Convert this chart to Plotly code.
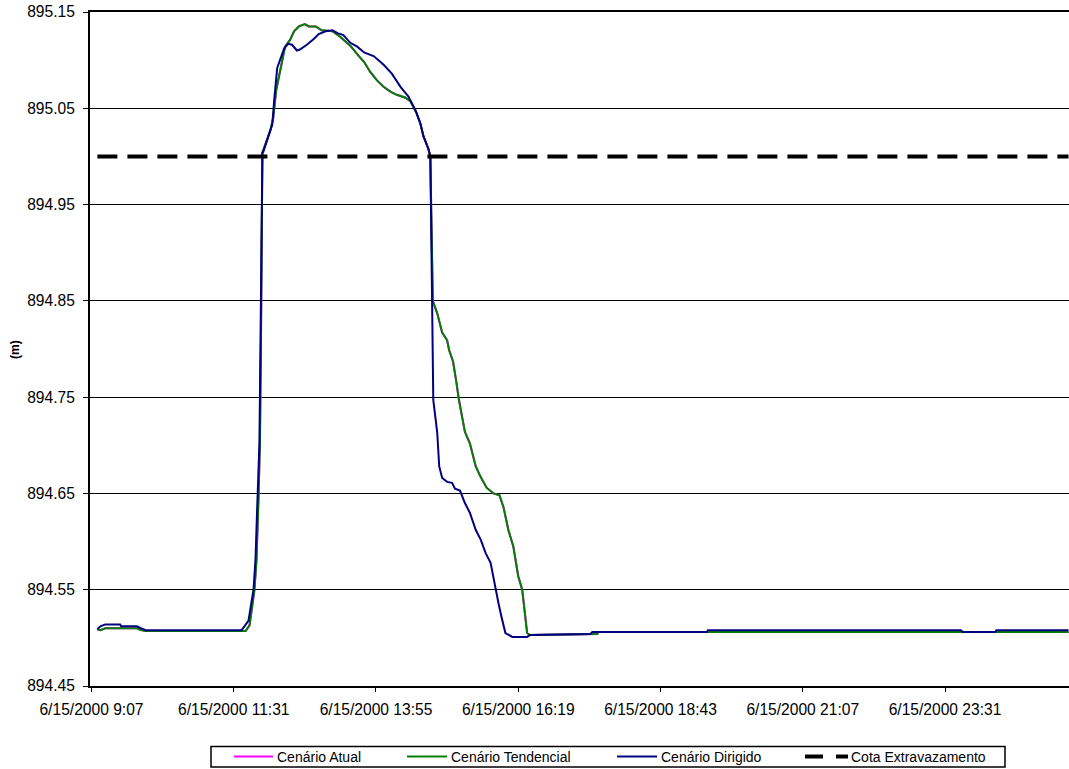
import plotly.graph_objects as go

# Nível do reservatório (m) ao longo do dia 15/06/2000
tempo_dirigido = [
    "2000-06-15 09:13", "2000-06-15 09:16", "2000-06-15 09:21", "2000-06-15 09:36",
    "2000-06-15 09:37", "2000-06-15 09:53", "2000-06-15 09:57", "2000-06-15 10:02",
    "2000-06-15 11:39", "2000-06-15 11:46", "2000-06-15 11:51", "2000-06-15 11:53",
    "2000-06-15 11:55", "2000-06-15 11:57", "2000-06-15 11:58", "2000-06-15 11:59",
    "2000-06-15 12:00", "2000-06-15 12:01", "2000-06-15 12:06", "2000-06-15 12:10",
    "2000-06-15 12:12", "2000-06-15 12:15", "2000-06-15 12:22", "2000-06-15 12:26",
    "2000-06-15 12:30", "2000-06-15 12:35", "2000-06-15 12:38", "2000-06-15 12:45",
    "2000-06-15 12:52", "2000-06-15 12:57", "2000-06-15 13:04", "2000-06-15 13:11",
    "2000-06-15 13:16", "2000-06-15 13:22", "2000-06-15 13:29", "2000-06-15 13:36",
    "2000-06-15 13:43", "2000-06-15 13:53", "2000-06-15 14:03", "2000-06-15 14:11",
    "2000-06-15 14:20", "2000-06-15 14:28", "2000-06-15 14:35", "2000-06-15 14:40",
    "2000-06-15 14:43", "2000-06-15 14:48", "2000-06-15 14:50", "2000-06-15 14:52",
    "2000-06-15 14:53", "2000-06-15 14:57", "2000-06-15 14:59", "2000-06-15 15:02",
    "2000-06-15 15:07", "2000-06-15 15:12", "2000-06-15 15:15", "2000-06-15 15:20",
    "2000-06-15 15:25", "2000-06-15 15:30", "2000-06-15 15:36", "2000-06-15 15:41",
    "2000-06-15 15:46", "2000-06-15 15:51", "2000-06-15 15:56", "2000-06-15 15:59",
    "2000-06-15 16:02", "2000-06-15 16:06", "2000-06-15 16:13", "2000-06-15 16:28",
    "2000-06-15 16:31", "2000-06-15 17:32", "2000-06-15 17:34", "2000-06-15 19:30",
    "2000-06-15 19:31", "2000-06-15 23:47", "2000-06-15 23:49", "2000-06-16 00:22",
    "2000-06-16 00:23", "2000-06-16 01:36",
]
nivel_dirigido = [
    894.509, 894.512, 894.514, 894.514, 894.512, 894.512, 894.510, 894.508,
    894.508, 894.518, 894.550, 894.581, 894.643, 894.702, 894.799, 894.903,
    895.004, 895.005, 895.022, 895.033, 895.059, 895.092, 895.112, 895.117,
    895.116, 895.110, 895.111, 895.116, 895.122, 895.127, 895.130, 895.131,
    895.128, 895.126, 895.118, 895.114, 895.108, 895.104, 895.095, 895.086,
    895.072, 895.062, 895.048, 895.034, 895.021, 895.008, 895.000, 894.851,
    894.747, 894.713, 894.678, 894.666, 894.662, 894.661, 894.655, 894.653,
    894.640, 894.630, 894.612, 894.602, 894.588, 894.578, 894.550, 894.536,
    894.522, 894.505, 894.501, 894.501, 894.503, 894.504, 894.506, 894.506,
    894.508, 894.508, 894.506, 894.506, 894.508, 894.508,
]

tempo_tendencial = [
    "2000-06-15 09:13", "2000-06-15 09:16", "2000-06-15 09:21", "2000-06-15 09:53",
    "2000-06-15 09:57", "2000-06-15 10:02", "2000-06-15 11:43", "2000-06-15 11:47",
    "2000-06-15 11:52", "2000-06-15 11:54", "2000-06-15 11:56", "2000-06-15 11:57:30",
    "2000-06-15 11:58:30", "2000-06-15 11:59:30", "2000-06-15 12:00", "2000-06-15 12:08",
    "2000-06-15 12:11", "2000-06-15 12:14", "2000-06-15 12:18", "2000-06-15 12:23",
    "2000-06-15 12:28", "2000-06-15 12:32", "2000-06-15 12:37", "2000-06-15 12:43",
    "2000-06-15 12:47", "2000-06-15 12:54", "2000-06-15 13:00", "2000-06-15 13:11",
    "2000-06-15 13:19", "2000-06-15 13:29", "2000-06-15 13:37", "2000-06-15 13:43",
    "2000-06-15 13:49", "2000-06-15 13:56", "2000-06-15 14:03", "2000-06-15 14:10",
    "2000-06-15 14:16", "2000-06-15 14:25", "2000-06-15 14:30", "2000-06-15 14:36",
    "2000-06-15 14:40", "2000-06-15 14:43", "2000-06-15 14:48", "2000-06-15 14:50",
    "2000-06-15 14:52:30", "2000-06-15 14:57", "2000-06-15 15:02", "2000-06-15 15:07",
    "2000-06-15 15:09", "2000-06-15 15:13", "2000-06-15 15:16", "2000-06-15 15:19",
    "2000-06-15 15:25", "2000-06-15 15:30", "2000-06-15 15:36", "2000-06-15 15:41",
    "2000-06-15 15:47", "2000-06-15 15:54", "2000-06-15 16:00", "2000-06-15 16:04",
    "2000-06-15 16:09", "2000-06-15 16:14", "2000-06-15 16:19", "2000-06-15 16:23",
    "2000-06-15 16:28", "2000-06-15 16:31", "2000-06-15 17:39", "2000-06-15 17:40",
    "2000-06-16 01:36",
]
nivel_tendencial = [
    894.509, 894.508, 894.510, 894.510, 894.508, 894.507, 894.507, 894.513,
    894.550, 894.581, 894.643, 894.702, 894.799, 894.903, 895.004, 895.027,
    895.040, 895.069, 895.090, 895.114, 895.121, 895.130, 895.135, 895.1375,
    895.135, 895.135, 895.131, 895.130, 895.124, 895.115, 895.105, 895.098,
    895.088, 895.079, 895.072, 895.067, 895.064, 895.061, 895.057, 895.045,
    895.034, 895.021, 895.008, 895.000, 894.850, 894.837, 894.817, 894.809,
    894.799, 894.787, 894.768, 894.747, 894.714, 894.702, 894.678, 894.667,
    894.656, 894.650, 894.648, 894.636, 894.612, 894.595, 894.564, 894.550,
    894.505, 894.503, 894.504, 894.506, 894.506,
]

# O cenário atual coincide com o tendencial e fica encoberto por ele
tempo_atual = list(tempo_tendencial)
nivel_atual = list(nivel_tendencial)

# Cota de extravazamento
tempo_cota = ["2000-06-15 09:13", "2000-06-16 01:36"]
nivel_cota = [895.00, 895.00]

# Eixos
x_ticks = [
    "2000-06-15 09:07", "2000-06-15 11:31", "2000-06-15 13:55", "2000-06-15 16:19",
    "2000-06-15 18:43", "2000-06-15 21:07", "2000-06-15 23:31",
]
x_labels = [
    "6/15/2000 9:07", "6/15/2000 11:31", "6/15/2000 13:55", "6/15/2000 16:19",
    "6/15/2000 18:43", "6/15/2000 21:07", "6/15/2000 23:31",
]
y_ticks = [894.45, 894.55, 894.65, 894.75, 894.85, 894.95, 895.05, 895.15]
y_labels = ["894.45", "894.55", "894.65", "894.75", "894.85", "894.95", "895.05", "895.15"]

series = [
    ("Cenário Atual", tempo_atual, nivel_atual, dict(color="#FF00FF", width=2)),
    ("Cenário Tendencial", tempo_tendencial, nivel_tendencial, dict(color="#008000", width=2)),
    ("Cenário Dirigido", tempo_dirigido, nivel_dirigido, dict(color="#000080", width=2)),
    ("Cota Extravazamento", tempo_cota, nivel_cota,
     dict(color="#000000", width=4, dash="20px,10px")),
]

FONT = "Liberation Sans, Arial, sans-serif"
W, H = 1069, 769
ML, MR, MT, MB = 90, 0, 12, 83
PW, PH = W - ML - MR, H - MT - MB


def px(x):
    return (x - ML) / PW


def py(y):
    return (H - MB - y) / PH


fig = go.Figure()
for nome, t, v, estilo in series:
    fig.add_trace(go.Scatter(x=t, y=v, mode="lines", name=nome, line=estilo, showlegend=False))

# Legenda desenhada em caixa única abaixo do gráfico
shapes = [dict(type="rect", xref="paper", yref="paper", x0=px(211), x1=px(1005),
               y0=py(746.5), y1=py(767), line=dict(color="black", width=1.5),
               fillcolor="white", layer="above")]
annotations = []
leg_y = 756.5
leg_items = [  # (início da amostra, fim da amostra, início do texto)
    (234, 273, 275),
    (407, 447, 449),
    (617, 657, 659),
    (805, 848, 849),
]
for (nome, _, _, estilo), (a0, a1, tx) in zip(series, leg_items):
    if "dash" in estilo:
        for d0, d1 in ((a0, a0 + 18), (a1 - 12, a1)):
            shapes.append(dict(type="line", xref="paper", yref="paper", x0=px(d0), x1=px(d1),
                               y0=py(leg_y), y1=py(leg_y),
                               line=dict(color=estilo["color"], width=4), layer="above"))
    else:
        shapes.append(dict(type="line", xref="paper", yref="paper", x0=px(a0), x1=px(a1),
                           y0=py(leg_y), y1=py(leg_y),
                           line=dict(color=estilo["color"], width=2), layer="above"))
    annotations.append(dict(text=nome, xref="paper", yref="paper", x=px(tx), y=py(leg_y),
                            xanchor="left", yanchor="middle", showarrow=False,
                            font=dict(size=14, family=FONT, color="black")))

annotations.append(dict(text="<b>(m)</b>", xref="paper", yref="paper", x=px(15), y=py(350),
                        xanchor="center", yanchor="middle", showarrow=False, textangle=-90,
                        font=dict(size=12, family=FONT, color="black")))

fig.update_layout(
    width=W, height=H,
    margin=dict(l=ML, r=MR, t=MT, b=MB),
    paper_bgcolor="white", plot_bgcolor="white",
    font=dict(family=FONT, color="black"),
    showlegend=False,
    shapes=shapes,
    annotations=annotations,
)
fig.update_xaxes(
    type="date", range=["2000-06-15 09:05:30", "2000-06-16 01:36:30"],
    tickvals=x_ticks, ticktext=x_labels, tickfont=dict(size=15.6),
    showgrid=False, zeroline=False, showline=True, linecolor="black", linewidth=2,
    mirror=True, ticks="outside", ticklen=4, tickwidth=1, tickcolor="black",
    ticklabelstandoff=4, automargin=False,
)
fig.update_yaxes(
    range=[894.45, 895.15], tickvals=y_ticks, ticktext=y_labels, tickfont=dict(size=15.6),
    showgrid=True, gridcolor="black", gridwidth=1, zeroline=False,
    showline=True, linecolor="black", linewidth=2,
    ticks="outside", ticklen=5, tickwidth=1, tickcolor="black", ticklabelstandoff=5,
    automargin=False,
)

fig.write_html("out.html")
